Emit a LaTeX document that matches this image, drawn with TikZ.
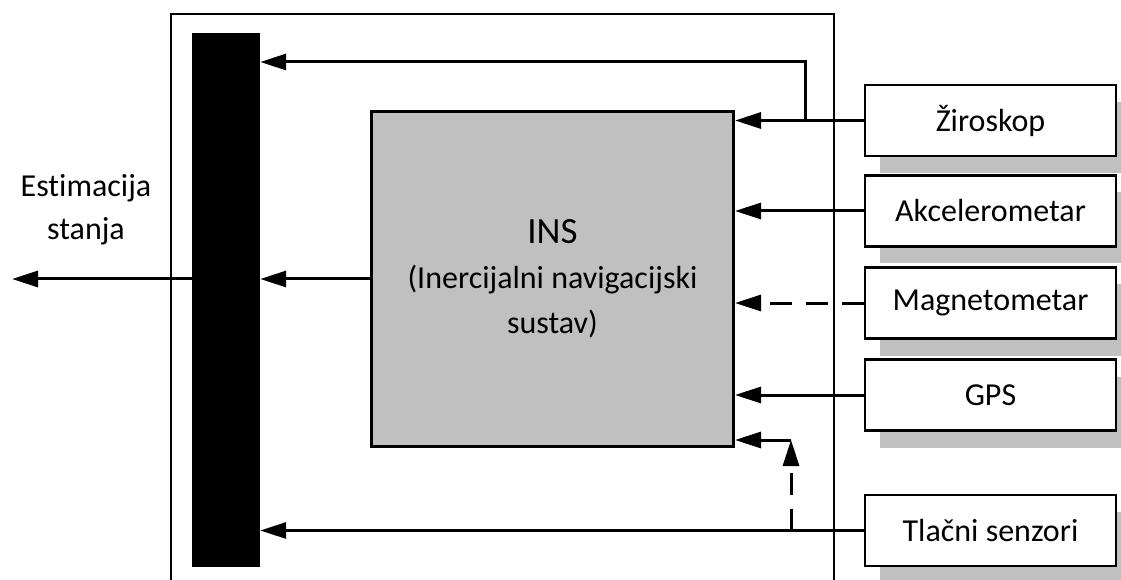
\documentclass[tikz,border=0pt]{standalone}
\usepackage{fontspec}
\setmainfont{Carlito}[Ligatures={NoCommon,NoRare,NoContextual}, Contextuals=NoAlternate]
\usetikzlibrary{arrows.meta,shadows}

\definecolor{sivo}{HTML}{C0C0C0}

\tikzstyle{senzor} = [rectangle, draw, line width=2.2pt, fill=white, text centered, minimum width=251pt, minimum height=71pt, font=\fontsize{32}{38}\selectfont, drop shadow={shadow xshift=15pt, shadow yshift=-17pt, fill=sivo, opacity=1}]
\tikzstyle{ins} = [rectangle, draw, line width=3pt, fill=sivo, text centered, minimum width=362pt, minimum height=335pt, align=center, font=\fontsize{32}{45}\selectfont]
\tikzstyle{fuzija} = [rectangle, fill=black, minimum width=68pt, minimum height=534pt]
\tikzstyle{veza} = [line width=3pt, -{Triangle[length=26pt, width=16pt]}]
\tikzstyle{crtkano} = [veza, dash pattern=on 22pt off 14pt]

\begin{document}
\begin{tikzpicture}[x=1pt, y=1pt]

    \useasboundingbox (0,0) rectangle (1121,579);

    %  okvir
    \draw [line width=1.6pt] (171,-10) -- (171,565) -- (834,565) -- (834,-10);

    %  nodes
    \node [fuzija] (bar) at (226,279) {};
    \node [ins] (INS) at (552.5,300) {{\fontsize{37}{45}\selectfont INS}\\
        (Inercijalni navigacijski\\
        sustav)};

    \node [align=center, font=\fontsize{32}{43}\selectfont] (est) at (86,369) {Est\kern0pt imacija\\stanja};

   %-------------------------------------------------------------
    \node [senzor] (Z) at (990.5,458.5) {Žiroskop};
    \node [senzor] (A) at (990.5,368) {Akcelerometar};
    \node [senzor] (M) at (990.5,276) {Magnetometar};
    \node [senzor] (G) at (990.5,184) {GPS};
    \node [senzor] (T) at (990.5,48.5) {Tlačni senzori};

   %-------------------------------------------------------------
    \coordinate (zgore) at (805,517);
    \coordinate (tgore) at (791,139);
    \coordinate (izlaz) at (12,296);

    \draw [veza] (Z.west) -- (Z.west -| INS.east);
    \draw [veza] (zgore |- Z.west) -- (zgore) -- (zgore -| bar.east);
    \draw [veza] (A.west) -- (A.west -| INS.east);
    \draw [crtkano] (M.west) -- (M.west -| INS.east);
    \draw [veza] (G.west) -- (G.west -| INS.east);
    \draw [veza] (T.west) -- (T.west -| bar.east);
    \draw [crtkano] (tgore |- T.west) -- (tgore);
    \draw [veza] (tgore) -- (tgore -| INS.east);

    %-----------------------------------------------------------
    \draw [veza] (INS.west) -- (INS.west -| bar.east);
    \draw [veza] (INS.west -| bar.west) -- (INS.west -| izlaz);

\end{tikzpicture}
\end{document}
